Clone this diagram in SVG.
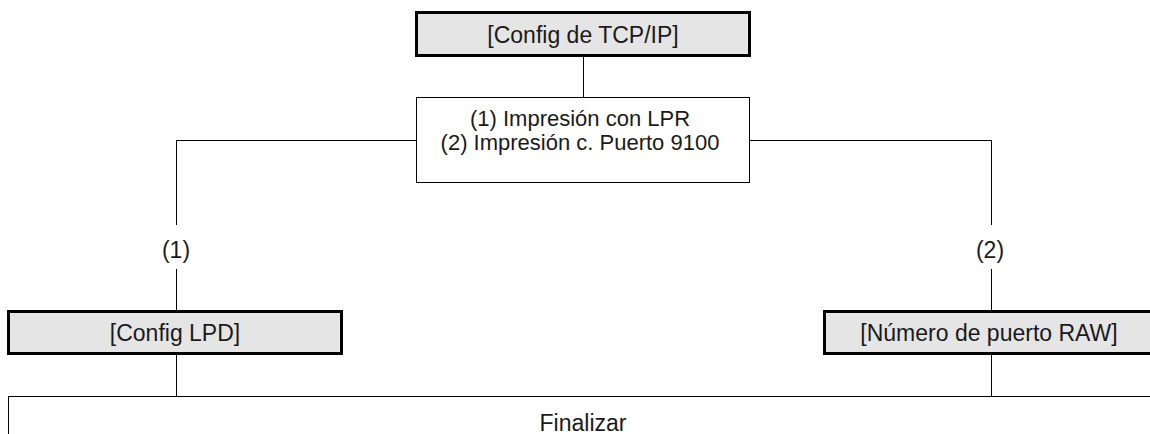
<svg xmlns="http://www.w3.org/2000/svg" width="1150" height="434" viewBox="0 0 1150 434">
<style>
.hdr{fill:#e5e5e5;stroke:#000;stroke-width:3}
.box{fill:#fff;stroke:#000;stroke-width:1}
.ln{fill:none;stroke:#000;stroke-width:1}
text{font-family:"Liberation Sans",Arial,sans-serif;font-size:23px;fill:#1a1a1a;text-anchor:middle}
.mt{font-size:22px}
</style>
<rect width="1150" height="434" fill="#fff"/>
<g id="connectors">
<path class="ln" d="M583.5 57V97.5"/>
<path class="ln" d="M416.5 140.5H176.5V225"/>
<path class="ln" d="M176.5 269V310"/>
<path class="ln" d="M749.5 140.5H991.5V225"/>
<path class="ln" d="M991.5 269V310"/>
<path class="ln" d="M176.5 355V396.5"/>
<path class="ln" d="M991.5 355V396.5"/>
<text x="176" y="258">(1)</text>
<text x="990" y="258">(2)</text>
</g>
<g id="n_tcpip">
<rect class="hdr" x="416.5" y="12.5" width="333" height="43"/>
<text x="583" y="43">[Config de TCP/IP]</text>
</g>
<g id="n_menu">
<rect class="box" x="416.5" y="97.5" width="333" height="85"/>
<text class="mt" x="580" y="126">(1) Impresión con LPR</text>
<text class="mt" x="580" y="150">(2) Impresión c. Puerto 9100</text>
</g>
<g id="n_lpd">
<rect class="hdr" x="8.5" y="311.5" width="333" height="42"/>
<text x="175" y="341">[Config LPD]</text>
</g>
<g id="n_raw">
<rect class="hdr" x="824.5" y="311.5" width="333" height="42"/>
<text x="989" y="341">[Número de puerto RAW]</text>
</g>
<g id="n_fin">
<rect class="box" x="8.5" y="396.5" width="1150" height="50"/>
<text x="583" y="431">Finalizar</text>
</g>
</svg>
